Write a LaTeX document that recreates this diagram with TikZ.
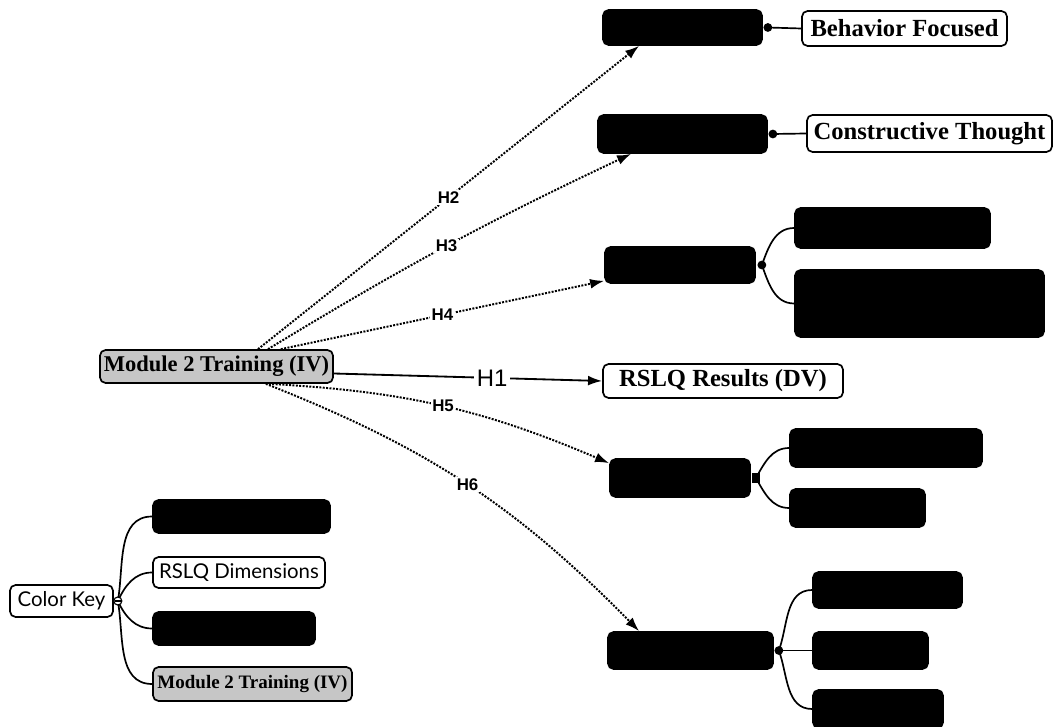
\documentclass[tikz,border=0pt]{standalone}
\usepackage{fontspec}
\setmainfont{Liberation Serif}
\setsansfont{Liberation Sans}
\newfontfamily\keyfont{Lato}
\usetikzlibrary{arrows.meta,calc,positioning}

\begin{document}
\begin{tikzpicture}[x=0.025cm,y=-0.025cm,>={Latex[length=10pt,width=7pt]},
    box/.style={draw,line width=1.2pt,rounded corners=4pt,inner sep=0pt,align=center},
    txtbox/.style={box,fill=white,font=\bfseries\fontsize{17.5}{20}\selectfont},
    blackbox/.style={box,fill=black},
    ivbox/.style={box,fill=gray!45,font=\bfseries\fontsize{16}{19}\selectfont},
    keybox/.style={box,fill=white,font=\keyfont\fontsize{14.5}{17}\selectfont},
    hyp/.style={->,line width=1.4pt,densely dotted},
    hlabel/.style={fill=white,inner sep=1pt,font=\sffamily\bfseries\fontsize{12}{14}\selectfont},
    branch/.style={line width=1.2pt}]
    \useasboundingbox (0,0) rectangle (1059,727);

    % independent variable and result
    \node[ivbox,minimum width=5.825cm,minimum height=0.825cm] (mod) at (216.5,366.5) {Module 2 Training (IV)};
    \node[txtbox,minimum width=6cm,minimum height=0.85cm] (res) at (723,381) {RSLQ Results (DV)};

    % dimension boxes
    \node[blackbox,minimum width=3.975cm,minimum height=0.875cm] (b1) at (682.5,27.5) {};
    \node[txtbox,minimum width=5.125cm,minimum height=0.875cm] (bf) at (904.5,28.5) {Behavior Focused};
    \node[blackbox,minimum width=4.225cm,minimum height=0.95cm] (b2) at (682.5,134) {};
    \node[txtbox,minimum width=6.125cm,minimum height=0.925cm] (ct) at (929.5,133.5) {Constructive Thought};
    \node[blackbox,minimum width=3.75cm,minimum height=0.9cm] (b3) at (680,265) {};
    \node[blackbox,minimum width=4.875cm,minimum height=1cm] (b3a) at (892.5,228) {};
    \node[blackbox,minimum width=6.225cm,minimum height=1.675cm] (b3b) at (919.5,303.5) {};
    \node[blackbox,minimum width=3.5cm,minimum height=0.95cm] (b5) at (680,478) {};
    \node[blackbox,minimum width=4.8cm,minimum height=0.95cm] (b5a) at (886,448) {};
    \node[blackbox,minimum width=3.375cm,minimum height=0.95cm] (b5b) at (857.5,508) {};
    \node[blackbox,minimum width=4.125cm,minimum height=0.925cm] (b6) at (690.5,650.5) {};
    \node[blackbox,minimum width=3.725cm,minimum height=0.9cm] (b6a) at (887.5,590) {};
    \node[blackbox,minimum width=2.875cm,minimum height=0.925cm] (b6b) at (870.5,650.5) {};
    \node[blackbox,minimum width=3.25cm,minimum height=0.95cm] (b6c) at (878,709) {};

    % colour key
    \node[keybox,minimum width=2.575cm,minimum height=0.8cm] (ck) at (61.5,601) {Color Key};
    \node[blackbox,minimum width=4.425cm,minimum height=0.825cm] (k1) at (241.5,516.5) {};
    \node[keybox,minimum width=4.3cm,minimum height=0.775cm] (k2) at (239,572.5) {RSLQ Dimensions};
    \node[blackbox,minimum width=4.05cm,minimum height=0.825cm] (k3) at (234,628.5) {};
    \node[ivbox,minimum width=4.975cm,minimum height=0.85cm,font=\bfseries\fontsize{13.5}{15}\selectfont] (k4) at (252.5,684) {Module 2 Training (IV)};

    % hypotheses
    \draw[->,line width=1.3pt] ($(mod.east)+(0,7)$) -- node[pos=0.59,fill=white,inner sep=2pt,font=\sffamily\fontsize{17}{19}\selectfont] {H1} (res.west);
    \draw[hyp] ($(mod.north)+(41.5,0)$) -- node[hlabel] {H2} ($(b1.south west)+(37,0)$);
    \draw[hyp] ($(mod.north)+(51.5,0)$) to[bend left=3] node[hlabel] {H3} ($(b2.south west)+(34,0)$);
    \draw[hyp] ($(mod.north east)+(-53,0)$) -- node[hlabel] {H4} ($(b3.south west)+(0,-3)$);
    \draw[hyp] ($(mod.south east)+(-65,0)$) to[bend left=10] node[hlabel] {H5} ($(b5.north west)+(0,5)$);
    \draw[hyp] ($(mod.south east)+(-68,0)$) to[bend left=12] node[hlabel] {H6} ($(b6.north west)+(32,0)$);

    % branches
    \coordinate (d1) at ($(b1.east)+(5,0)$);
    \coordinate (d2) at ($(b2.east)+(5,0)$);
    \coordinate (d3) at ($(b3.east)+(6,0)$);
    \coordinate (d5) at ($(b5.east)+(5,0)$);
    \coordinate (d6) at ($(b6.east)+(5,0)$);
    \coordinate (dk) at ($(ck.east)+(4,0)$);
    \draw[branch] (d1) -- (bf.west);
    \draw[branch] (d2) -- (ct.west);
    \draw[branch] (d3) to[out=70,in=180] (b3a.west);
    \draw[branch] (d3) to[out=-70,in=180] (b3b.west);
    \draw[branch] (d5) to[out=60,in=180] (b5a.west);
    \draw[branch] (d5) to[out=-60,in=180] (b5b.west);
    \draw[branch] (d6) to[out=70,in=180] (b6a.west);
    \draw[branch] (d6) -- (b6b.west);
    \draw[branch] (d6) to[out=-70,in=180] (b6c.west);
    \draw[branch] (dk) to[out=80,in=180] (k1.west);
    \draw[branch] (dk) to[out=65,in=180] (k2.west);
    \draw[branch] (dk) to[out=-65,in=180] (k3.west);
    \draw[branch] (dk) to[out=-80,in=180] (k4.west);
    \foreach \d in {d1,d2,d3,d6}
        \fill (\d) circle[radius=0.11cm];
    \fill ($(d5)+(-4,-5)$) rectangle ($(d5)+(4,5)$);
    \draw[line width=0.8pt,fill=white] (dk) circle[radius=0.1cm];
    \draw[line width=0.8pt] ($(dk)+(-3,0)$) -- ($(dk)+(3,0)$);
\end{tikzpicture}
\end{document}
